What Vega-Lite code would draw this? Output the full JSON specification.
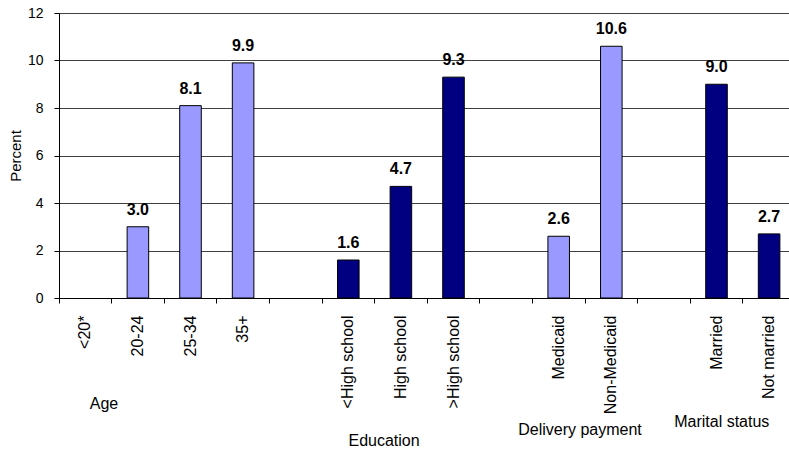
{
  "$schema": "https://vega.github.io/schema/vega-lite/v6.json",
  "width": 728,
  "height": 285,
  "autosize": "none",
  "padding": {"left": 59, "top": 13, "right": 2, "bottom": 152},
  "background": "white",
  "config": {"font": "Liberation Sans", "view": {"stroke": null}},
  "datasets": {
    "bars": [
      {"category": "20-24", "group": "Age", "percent": 3.0},
      {"category": "25-34", "group": "Age", "percent": 8.1},
      {"category": "35+", "group": "Age", "percent": 9.9},
      {"category": "<High school", "group": "Education", "percent": 1.6},
      {"category": "High school", "group": "Education", "percent": 4.7},
      {"category": ">High school", "group": "Education", "percent": 9.3},
      {"category": "Medicaid", "group": "Delivery payment", "percent": 2.6},
      {"category": "Non-Medicaid", "group": "Delivery payment", "percent": 10.6},
      {"category": "Married", "group": "Marital status", "percent": 9.0},
      {"category": "Not married", "group": "Marital status", "percent": 2.7}
    ],
    "groups": [
      {"group": "Age"},
      {"group": "Education"},
      {"group": "Delivery payment"},
      {"group": "Marital status"}
    ]
  },
  "layer": [
    {
      "data": {"name": "bars"},
      "mark": {"type": "bar", "width": {"band": 0.41}, "stroke": "black", "strokeWidth": 1},
      "encoding": {
        "x": {
          "field": "category",
          "type": "nominal",
          "scale": {
            "domain": ["<20*", "20-24", "25-34", "35+", "_1", "<High school", "High school", ">High school", "_2", "Medicaid", "Non-Medicaid", "_3", "Married", "Not married"],
            "range": [0, 736.4],
            "paddingInner": 0,
            "paddingOuter": 0
          },
          "axis": {
            "title": null,
            "bandPosition": 0,
            "labelAngle": -90,
            "labelAlign": "right",
            "labelBaseline": "middle",
            "labelFontSize": 16,
            "labelColor": "black",
            "labelPadding": 12,
            "labelLimit": 0,
            "tickSize": 5,
            "tickColor": "black",
            "domainColor": "black",
            "grid": false,
            "labelExpr": "slice(datum.label, 0, 1) == '_' ? '' : datum.label"
          }
        },
        "y": {
          "field": "percent",
          "type": "quantitative",
          "scale": {"domain": [0, 12]},
          "axis": {
            "values": [0, 2, 4, 6, 8, 10, 12],
            "grid": true,
            "gridColor": "#404040",
            "tickSize": 5,
            "tickColor": "black",
            "domainColor": "black",
            "labelFontSize": 14,
            "labelPadding": 11,
            "labelColor": "black",
            "title": "Percent",
            "titleFontSize": 15,
            "titleFontWeight": "normal",
            "titleColor": "black",
            "titlePadding": 4
          }
        },
        "color": {
          "field": "group",
          "type": "nominal",
          "scale": {
            "domain": ["Age", "Education", "Delivery payment", "Marital status"],
            "range": ["#9999FF", "#000080", "#9999FF", "#000080"]
          },
          "legend": null
        }
      }
    },
    {
      "data": {"name": "bars"},
      "mark": {"type": "text", "fontWeight": "bold", "fontSize": 16, "dy": -12, "baseline": "alphabetic", "color": "black"},
      "encoding": {
        "x": {"field": "category", "type": "nominal"},
        "y": {"field": "percent", "type": "quantitative"},
        "text": {"field": "percent", "type": "quantitative", "format": ".1f"}
      }
    },
    {
      "data": {"name": "groups"},
      "transform": [{"filter": "datum.group === 'Age'"}],
      "mark": {"type": "text", "fontSize": 16, "baseline": "alphabetic", "align": "center", "color": "black"},
      "encoding": {
        "x": {"datum": "<20*", "type": "nominal", "bandPosition": 0.856},
        "y": {"datum": -4.674, "type": "quantitative", "scale": {"domain": [0, 12]}},
        "text": {"field": "group"}
      }
    },
    {
      "data": {"name": "groups"},
      "transform": [{"filter": "datum.group === 'Education'"}],
      "mark": {"type": "text", "fontSize": 16, "baseline": "alphabetic", "align": "center", "color": "black"},
      "encoding": {
        "x": {"datum": "High school", "type": "nominal", "bandPosition": 0.18},
        "y": {"datum": -6.232, "type": "quantitative", "scale": {"domain": [0, 12]}},
        "text": {"field": "group"}
      }
    },
    {
      "data": {"name": "groups"},
      "transform": [{"filter": "datum.group === 'Delivery payment'"}],
      "mark": {"type": "text", "fontSize": 16, "baseline": "alphabetic", "align": "center", "color": "black"},
      "encoding": {
        "x": {"datum": "Medicaid", "type": "nominal", "bandPosition": 0.905},
        "y": {"datum": -5.768, "type": "quantitative", "scale": {"domain": [0, 12]}},
        "text": {"field": "group"}
      }
    },
    {
      "data": {"name": "groups"},
      "transform": [{"filter": "datum.group === 'Marital status'"}],
      "mark": {"type": "text", "fontSize": 16, "baseline": "alphabetic", "align": "center", "color": "black"},
      "encoding": {
        "x": {"datum": "Married", "type": "nominal", "bandPosition": 0.6},
        "y": {"datum": -5.432, "type": "quantitative", "scale": {"domain": [0, 12]}},
        "text": {"field": "group"}
      }
    }
  ]
}
